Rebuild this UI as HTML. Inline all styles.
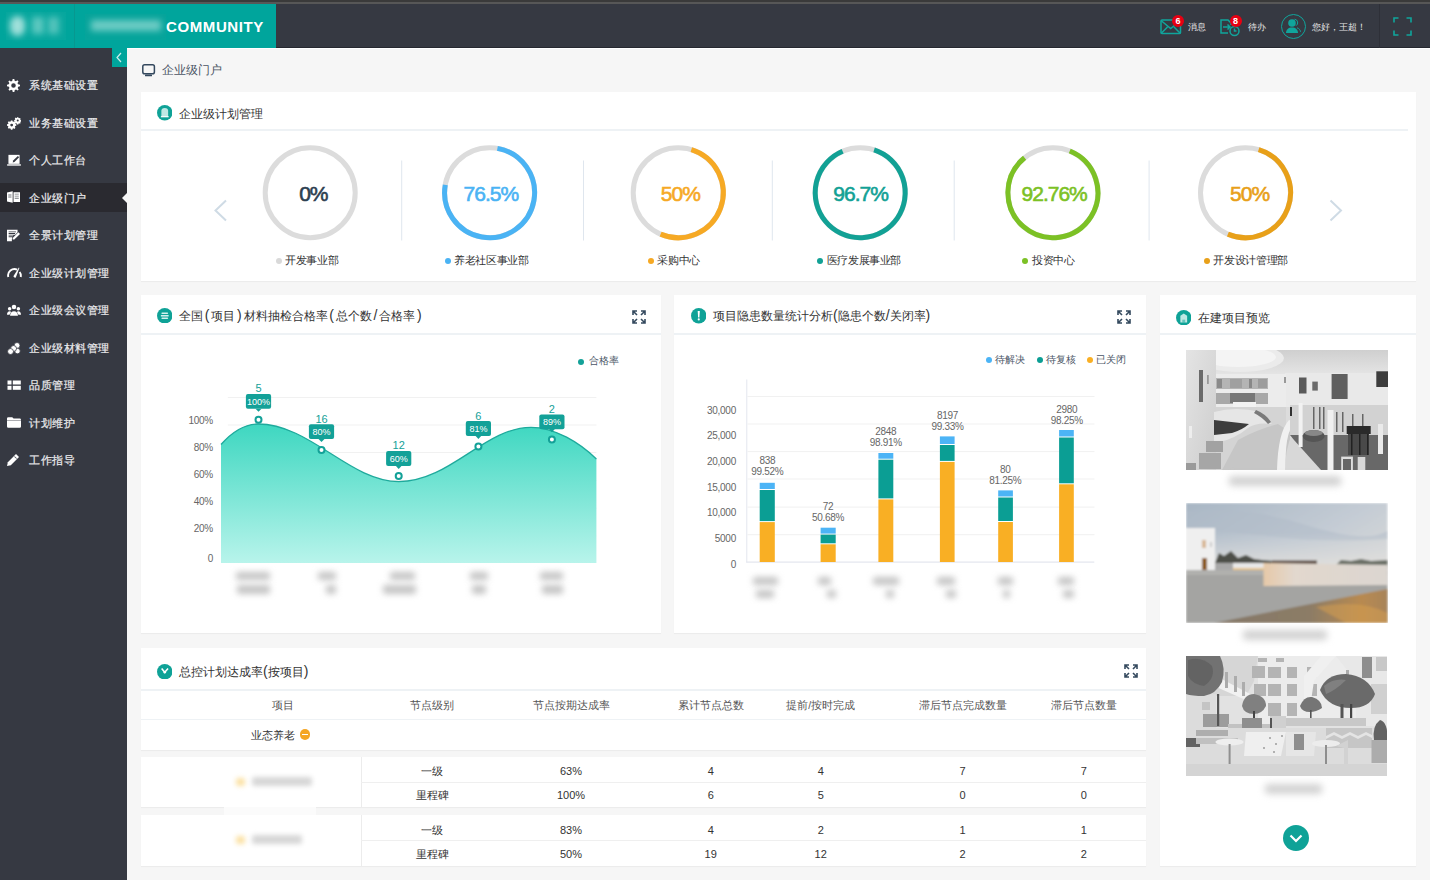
<!DOCTYPE html>
<html><head><meta charset="utf-8">
<style>
*{margin:0;padding:0;box-sizing:border-box}
html,body{width:1430px;height:880px;overflow:hidden;background:#f5f5f5;font-family:"Liberation Sans",sans-serif;color:#333}
.abs{position:absolute}
#topline{left:0;top:0;width:1430px;height:4px;background:#3a3a3a}
#topline2{left:0;top:1.5px;width:1430px;height:2.5px;background:#575757}
#header{left:0;top:4px;width:1430px;height:44px;background:#363942;border-bottom:1px solid #262830}
#logo{left:0;top:4px;width:276px;height:44px;background:#00a59c}
#logodiv{left:74px;top:4px;width:1px;height:44px;background:#079890}
#sidebar{left:0;top:48px;width:127px;height:832px;background:#363942}
#collapse{left:112px;top:48px;width:15px;height:19px;background:#00a59c}
#content{left:127px;top:48px;width:1303px;height:832px;background:#f6f6f6;border-top:1px solid #fff}
.menu{position:absolute;left:0;width:127px;height:28px;color:#ececee;font-size:11px;letter-spacing:0.5px;line-height:28px;padding-left:29px;white-space:nowrap;-webkit-text-stroke:0.2px #ececee}
.menu.active{background:#2a2a30;height:29px;margin-top:-1px;line-height:30px}
.micon{position:absolute;left:7px;top:8px;width:14px;height:13px}
.micon svg{display:block}
.card{position:absolute;background:#fff;box-shadow:0 1px 1px rgba(0,0,0,0.04)}
.ctitle{position:absolute;font-size:12px;color:#333;white-space:nowrap;line-height:16px}
.ctitle i{font-style:normal;margin:0 1.8px;font-size:14px;line-height:10px}
.ctitle.n i{margin:0}
.cicon{position:absolute;width:15px;height:15px;border-radius:50%;background:#0fa297}
.sep{position:absolute;height:2px;background:#eef2f5}
.hdr-txt{position:absolute;color:#e6e6e6;font-size:9px;line-height:12px;white-space:nowrap}
.badge{position:absolute;width:12px;height:12px;border-radius:50%;background:#e60012;color:#fff;font-size:9px;line-height:12px;text-align:center;font-weight:bold}
.pct{position:absolute;top:181.7px;width:120px;-webkit-text-stroke:0.6px currentColor;text-align:center;font-size:21px;line-height:24px;letter-spacing:-1px;white-space:nowrap}
.dot{position:absolute;width:6px;height:6px;border-radius:50%}
.clab{position:absolute;top:253px;font-size:11px;letter-spacing:-0.35px;line-height:14px;color:#333;white-space:nowrap}
.tip{position:absolute;width:40px;text-align:center;color:#fff;font-size:9px;line-height:12px;white-space:nowrap}
.num{position:absolute;width:40px;text-align:center;color:#13a198;font-size:11px;line-height:14px}
.ylab{position:absolute;text-align:right;color:#666;font-size:10px;letter-spacing:-0.25px;line-height:14px;white-space:nowrap;margin-top:0.8px}
.blur{position:absolute;background:#cfcfcf;filter:blur(2.5px);border-radius:3px}
.leg{position:absolute;color:#4a5566;font-size:10px;line-height:14px;white-space:nowrap}
.blab{position:absolute;width:60px;text-align:center;color:#666;font-size:10px;letter-spacing:-0.3px;line-height:11px;white-space:nowrap;margin-top:1.2px}
.th{position:absolute;width:120px;text-align:center;color:#555;font-size:10.5px;line-height:14px;white-space:nowrap}
.td{position:absolute;width:120px;text-align:center;color:#333;font-size:11px;line-height:14px;white-space:nowrap}
.blur2{position:absolute;background:#c4c4c4;filter:blur(3px);border-radius:2px}
</style></head><body>
<div id="topline" class="abs"></div>
<div id="topline2" class="abs"></div>
<div id="header" class="abs"></div>
<div id="logo" class="abs"></div>
<div id="logodiv" class="abs"></div>
<div class="abs" style="left:166px;top:18px;color:#fff;font-size:15px;font-weight:bold;letter-spacing:0.6px;line-height:18px">COMMUNITY</div>
<!--HEADER-->
<div class="abs" style="left:6px;top:12px;width:60px;height:28px;background:#07a79e"></div>
<div class="abs" style="left:10px;top:16px;width:15px;height:20px;border-radius:8px;background:#a0e0da;filter:blur(3px)"></div>
<div class="abs" style="left:32px;top:17px;width:12px;height:17px;background:#5cc8c0;filter:blur(3px)"></div>
<div class="abs" style="left:48px;top:17px;width:11px;height:17px;background:#54c4bc;filter:blur(3px)"></div>
<div class="abs" style="left:85px;top:14px;width:81px;height:26px;background:#06a49b"></div>
<div class="abs" style="left:91px;top:20px;width:70px;height:11px;background:#6ccbc4;filter:blur(3px)"></div>
<svg class="abs" style="left:1160px;top:19px" width="22" height="16" viewBox="0 0 22 16"><g fill="none" stroke="#10a59c" stroke-width="1.5"><rect x="1" y="1" width="19.5" height="13.5" rx="1"/><path d="M1 1.5l9.7 8 9.8-8M1 14.5l6.5-6.5M20.5 14.5l-6.5-6.5"/></g></svg>
<div class="badge" style="left:1172px;top:14.5px">6</div>
<div class="hdr-txt" style="left:1188px;top:21px">消息</div>
<svg class="abs" style="left:1219px;top:19px" width="22" height="18" viewBox="0 0 22 18"><g fill="none" stroke="#10a59c" stroke-width="1.5"><path d="M9 14H2V1h7l3 3v2"/><path d="M4 8h7M8.5 5.5L11 8l-2.5 2.5"/><circle cx="15.5" cy="12" r="4.5"/><path d="M15.5 9.5V12h2"/></g></svg>
<div class="badge" style="left:1229.5px;top:14.5px">8</div>
<div class="hdr-txt" style="left:1248px;top:21px">待办</div>
<div class="abs" style="left:1281px;top:14px;width:25px;height:25px;border-radius:50%;border:1.5px solid #10a59c"></div>
<svg class="abs" style="left:1285px;top:18px" width="17" height="16" viewBox="0 0 17 16"><g fill="#10a59c"><circle cx="7" cy="5" r="3.8"/><path d="M1 15c0-3.5 2.5-5.5 6-5.5s6 2 6 5.5z"/></g><path d="M9.5 1.2a3.5 3.5 0 0 1 1.5 6.5M12 9.8c2 .7 3.5 2.3 3.5 4" fill="none" stroke="#10a59c" stroke-width="1"/></svg>
<div class="hdr-txt" style="left:1312px;top:21px">您好，王超！</div>
<div class="abs" style="left:1379px;top:4px;width:1px;height:44px;background:#2e3038"></div>
<svg class="abs" style="left:1393px;top:17px" width="19" height="19" viewBox="0 0 19 19"><path d="M1 5.5V1h4.5M13.5 1H18v4.5M18 13.5V18h-4.5M5.5 18H1v-4.5" fill="none" stroke="#10a59c" stroke-width="1.6"/></svg>
<!--/HEADER-->
<div id="sidebar" class="abs"></div>
<div id="content" class="abs"></div>
<div id="collapse" class="abs"></div>
<!--SIDEBAR-->
<div class="menu" style="top:71.0px"><span class="micon"><svg width="13" height="13" viewBox="0 0 16 16"><path fill="#fff" d="M7 0h2l.4 2.2a6 6 0 0 1 1.6.7l1.8-1.3 1.4 1.4-1.3 1.8a6 6 0 0 1 .7 1.6L16 7v2l-2.2.4a6 6 0 0 1-.7 1.6l1.3 1.8-1.4 1.4-1.8-1.3a6 6 0 0 1-1.6.7L9 16H7l-.4-2.2a6 6 0 0 1-1.6-.7l-1.8 1.3-1.4-1.4 1.3-1.8a6 6 0 0 1-.7-1.6L0 9V7l2.2-.4a6 6 0 0 1 .7-1.6L1.6 3.2 3 1.8l1.8 1.3a6 6 0 0 1 1.6-.7z M8 5.2A2.8 2.8 0 1 0 8 10.8 2.8 2.8 0 1 0 8 5.2z" fill-rule="evenodd"/></svg></span>系统基础设置</div>
<div class="menu" style="top:108.5px"><span class="micon"><svg width="14" height="13" viewBox="0 0 18 16"><g fill="#fff" fill-rule="evenodd"><path d="M5 6h2l.3 1.4 1.1.5 1.2-.8 1.4 1.4-.8 1.2.5 1.1L12 11v2l-1.4.3-.5 1.1.8 1.2-1.4 1.4-1.2-.8-1.1.5L7 18H5l-.3-1.4-1.1-.5-1.2.8L1 15.5l.8-1.2-.5-1.1L0 13v-2l1.4-.3.5-1.1L1 8.4 2.4 7l1.2.8 1.1-.5z M6 10.2a1.8 1.8 0 1 0 0 3.6 1.8 1.8 0 1 0 0-3.6z" transform="translate(0,-2)"/><path d="M13 0h1.6l.2 1 .8.4.9-.6 1.1 1.1-.6.9.4.8 1 .2v1.6l-1 .2-.4.8.6.9-1.1 1.1-.9-.6-.8.4-.2 1H13l-.2-1-.8-.4-.9.6L10 6.9l.6-.9-.4-.8-1-.2V3.4l1-.2.4-.8-.6-.9L11.1.4l.9.6.8-.4z M13.8 2.9a1.3 1.3 0 1 0 0 2.6 1.3 1.3 0 1 0 0-2.6z"/></g></svg></span>业务基础设置</div>
<div class="menu" style="top:146.0px"><span class="micon"><svg width="14" height="12" viewBox="0 0 16 14"><path fill="#fff" d="M1.5 1h13v10.5h-13z"/><path fill="#363942" d="M12.5 2.2L14 3.7 8.5 9.2 6.5 9.8 7 7.7z"/><path fill="#fff" d="M0 12h16v1.6H0z"/></svg></span>个人工作台</div>
<div class="menu active" style="top:183.5px"><span class="micon"><svg width="13" height="12" viewBox="0 0 16 14"><path fill="#fff" d="M0 1.5l7 -1.5v14L0 12.5z M8 1h8v12H8z"/><path fill="#363942" d="M9.5 3h5v1h-5zM9.5 5.5h5v1h-5zM9.5 8h5v1h-5zM1.5 4h4v1h-4zM1.5 6.5h4v1h-4z" opacity=".7"/></svg></span>企业级门户</div>
<div class="menu" style="top:221.0px"><span class="micon"><svg width="13" height="13" viewBox="0 0 16 16"><path fill="#fff" d="M0 1h13v3l-3 3H2v1h6l-1 1H2v1h4.5L6 12.5V15H0z M2 3v1h9V3z M2 5v1h8V5z M14 4l2 2-7 7H7v-2z"/></svg></span>全景计划管理</div>
<div class="menu" style="top:258.5px"><span class="micon"><svg width="15" height="12" viewBox="0 0 15 12" style="margin-top:-0.5px"><path fill="none" stroke="#fff" stroke-width="1.9" d="M1.3 11A6.4 6.4 0 0 1 10.2 3.6M12.6 6A6.4 6.4 0 0 1 13.7 11"/><path fill="#fff" d="M6.4 10.2L11.9 1.6 12.4 1.9 8.8 11.6Q7 12 6.4 10.2z"/></svg></span>企业级计划管理</div>
<div class="menu" style="top:296.0px"><span class="micon"><svg width="14" height="12" viewBox="0 0 16 13"><g fill="#fff"><circle cx="8" cy="3" r="2.6"/><circle cx="3" cy="5" r="2"/><circle cx="13" cy="5" r="2"/><path d="M3.5 13c0-3 2-5 4.5-5s4.5 2 4.5 5z"/><path d="M0 12c0-2.5 1.2-4 3-4 .8 0 1.3.3 1.8.7C3.8 9.7 3 11 3 12z"/><path d="M16 12c0-2.5-1.2-4-3-4-.8 0-1.3.3-1.8.7 1 1 1.8 2.3 1.8 3.3z"/></g></svg></span>企业级会议管理</div>
<div class="menu" style="top:333.5px"><span class="micon"><svg width="14" height="13" viewBox="0 0 16 15"><g fill="#fff" stroke="#363942" stroke-width=".9"><circle cx="11.5" cy="4" r="3.4"/><circle cx="12" cy="10.5" r="3.2"/><circle cx="7.5" cy="7.5" r="3.4"/><circle cx="4" cy="11" r="3.4"/></g></svg></span>企业级材料管理</div>
<div class="menu" style="top:371.0px"><span class="micon"><svg width="14" height="11" viewBox="0 0 14 11" style="margin-top:1px"><g fill="#fff"><rect x="0.5" y="0.5" width="4" height="4"/><rect x="5.8" y="0.5" width="8" height="4"/><rect x="0.5" y="5.8" width="4" height="4"/><rect x="5.8" y="5.8" width="8" height="4"/></g></svg></span>品质管理</div>
<div class="menu" style="top:408.5px"><span class="micon"><svg width="14" height="11" viewBox="0 0 16 12"><path fill="#fff" d="M0 1.5Q0 0 1.5 0H6l1.5 1.5h7Q16 1.5 16 3v7.5Q16 12 14.5 12h-13Q0 12 0 10.5z"/><path fill="#363942" d="M0 3.5h16v.8H0z" opacity=".6"/></svg></span>计划维护</div>
<div class="menu" style="top:446.0px"><span class="micon"><svg width="12" height="12" viewBox="0 0 14 14"><path fill="#fff" d="M10.5 0L14 3.5 4.5 13 0 14 1 9.5z"/><path fill="#363942" d="M9 2.5l2.5 2.5-.6.6L8.4 3.1z"/></svg></span>工作指导</div>
<div class="abs" style="left:122px;top:193px;width:0;height:0;border-top:5px solid transparent;border-bottom:5px solid transparent;border-right:5px solid #f6f6f6"></div>
<svg class="abs" style="left:115px;top:52px" width="8" height="11" viewBox="0 0 8 11"><path d="M6 1L2 5.5 6 10" fill="none" stroke="#cdeeed" stroke-width="1.2"/></svg>
<!--/SIDEBAR-->

<!--MAIN-->
<svg class="abs" style="left:141.5px;top:63.5px" width="14" height="13" viewBox="0 0 14 13"><rect x="0.8" y="0.8" width="11.6" height="9" rx="1.8" fill="none" stroke="#34495e" stroke-width="1.5"/><rect x="3" y="10.5" width="7" height="1.8" rx=".6" fill="#34495e"/></svg>
<div class="abs" style="left:162px;top:63px;font-size:12px;line-height:15px;color:#4a5464;white-space:nowrap">企业级门户</div>

<div class="card" style="left:141px;top:92px;width:1275px;height:189px"></div>
<div class="sep" style="left:141px;top:129px;width:1267px"></div>
<svg class="abs" style="left:156.8px;top:105.3px" width="15.5" height="15.5" viewBox="0 0 16 16"><circle cx="8" cy="8" r="8" fill="#0fa297"/><path d="M4.5 12.5V6Q4.5 3.5 8 3.2Q11.5 3.5 11.5 6V12.5z" fill="#bfe8e4"/><rect x="4" y="11.5" width="8" height="1.2" fill="#fff"/></svg>
<div class="ctitle" style="left:179px;top:106px">企业级计划管理</div>

<div class="card" style="left:141px;top:295px;width:520px;height:338px"></div>
<div class="sep" style="left:141px;top:333px;width:520px"></div>
<svg class="abs" style="left:156.8px;top:307.8px" width="15.5" height="15.5" viewBox="0 0 16 16"><circle cx="8" cy="8" r="8" fill="#0fa297"/><rect x="4.5" y="4.6" width="7" height="1.6" rx=".8" fill="#d6f0ee"/><rect x="4" y="7.2" width="8" height="1.6" fill="#d6f0ee"/><rect x="4.5" y="9.8" width="7" height="1.6" rx=".8" fill="#d6f0ee"/></svg>
<div class="ctitle" style="left:179px;top:308px">全国<i>(</i>项目<i>)</i>材料抽检合格率<i>(</i>总个数<i>/</i>合格率<i>)</i></div>

<div class="card" style="left:674px;top:295px;width:472px;height:338px"></div>
<div class="sep" style="left:674px;top:333px;width:472px"></div>
<svg class="abs" style="left:690.8px;top:308px" width="15.5" height="15.5" viewBox="0 0 16 16"><circle cx="8" cy="8" r="8" fill="#0fa297"/><path d="M6.9 3h2.2l-.4 6.8H7.3z" fill="#fff"/><circle cx="8" cy="11.8" r="1.1" fill="#fff"/></svg>
<div class="ctitle n" style="left:713px;top:308px">项目隐患数量统计分析<i>(</i>隐患个数<i>/</i>关闭率<i>)</i></div>

<div class="card" style="left:1160px;top:295px;width:256px;height:571px"></div>
<div class="sep" style="left:1160px;top:333px;width:256px"></div>
<svg class="abs" style="left:1175.8px;top:309.6px" width="15.5" height="15.5" viewBox="0 0 16 16"><circle cx="8" cy="8" r="8" fill="#0fa297"/><path d="M4.5 13V6L8 3.5 11.5 6V13z" fill="#bfe8e4"/><rect x="6.5" y="10" width="3" height="3" fill="#0fa297" opacity=".5"/></svg>
<div class="ctitle" style="left:1198px;top:310px">在建项目预览</div>

<div class="card" style="left:141px;top:648px;width:1005px;height:102px"></div>
<div class="sep" style="left:141px;top:689px;width:1005px"></div>
<div class="sep" style="left:141px;top:719px;width:1005px;height:1px"></div>
<svg class="abs" style="left:156.8px;top:663.8px" width="15.5" height="15.5" viewBox="0 0 16 16"><circle cx="8" cy="8" r="8" fill="#0fa297"/><path d="M4.8 4.6L8 8.5 11.4 4.6" fill="none" stroke="#fff" stroke-width="1.6"/><circle cx="8" cy="8.6" r="1.3" fill="#fff"/></svg>
<div class="ctitle n" style="left:179px;top:664px">总控计划达成率<i>(</i>按项目<i>)</i></div>

<div class="card" style="left:141px;top:757px;width:1005px;height:50px"></div>
<div class="card" style="left:141px;top:815px;width:1005px;height:51px"></div>
<!--CAROUSEL-->
<svg class="abs" style="left:0;top:0" width="1430" height="300" viewBox="0 0 1430 300">
<circle cx="310.2" cy="192.7" r="45" fill="none" stroke="#dcdcdc" stroke-width="5"/>
<circle cx="489.6" cy="192.7" r="45" fill="none" stroke="#dcdcdc" stroke-width="5"/>
<path d="M497.41 148.38A45 45 0 1 1 445.28 184.89" fill="none" stroke="#4ab3f4" stroke-width="5"/>
<circle cx="678.2" cy="192.7" r="45" fill="none" stroke="#dcdcdc" stroke-width="5"/>
<path d="M691.36 149.67A45 45 0 1 1 660.62 234.12" fill="none" stroke="#f6a924" stroke-width="5"/>
<circle cx="860.2" cy="192.7" r="45" fill="none" stroke="#dcdcdc" stroke-width="5"/>
<path d="M874.11 149.90A45 45 0 1 1 842.62 151.28" fill="none" stroke="#12a195" stroke-width="5"/>
<circle cx="1052.9" cy="192.7" r="45" fill="none" stroke="#dcdcdc" stroke-width="5"/>
<path d="M1069.76 150.98A45 45 0 1 1 1024.58 157.73" fill="none" stroke="#7cc125" stroke-width="5"/>
<circle cx="1245.5" cy="192.7" r="45" fill="none" stroke="#dcdcdc" stroke-width="5"/>
<path d="M1258.66 149.67A45 45 0 1 1 1227.92 234.12" fill="none" stroke="#e8a019" stroke-width="5"/>
<rect x="401.2" y="160.5" width="1" height="80" fill="#dfe6ee"/>
<rect x="583.0" y="160.5" width="1" height="80" fill="#dfe6ee"/>
<rect x="771.8" y="160.5" width="1" height="80" fill="#dfe6ee"/>
<rect x="953.7" y="160.5" width="1" height="80" fill="#dfe6ee"/>
<rect x="1148.6" y="160.5" width="1" height="80" fill="#dfe6ee"/>
<path d="M226 200.5L215.5 210.5 226 220.5" fill="none" stroke="#cfdbe5" stroke-width="2"/>
<path d="M1330.5 200.5L1341 210.5 1330.5 220.5" fill="none" stroke="#cfdbe5" stroke-width="2"/>
</svg>
<div class="pct" style="margin-left:3.20px;left:250.2px;color:#2c3e50">0%</div>
<div class="pct" style="margin-left:1.30px;left:429.6px;color:#4ab3f4">76.5%</div>
<div class="pct" style="margin-left:2.20px;left:618.2px;color:#f6a924">50%</div>
<div class="pct" style="margin-left:0.40px;left:800.2px;color:#12a195">96.7%</div>
<div class="pct" style="margin-left:1.30px;left:992.9000000000001px;color:#7cc125">92.76%</div>
<div class="pct" style="margin-left:4.05px;left:1185.5px;color:#e8a019">50%</div>

<div class="dot" style="left:275.55px;top:257.5px;background:#d9d9d9"></div><div class="clab" style="left:285.1px">开发事业部</div>
<div class="dot" style="left:444.65px;top:257.5px;background:#4ab3f4"></div><div class="clab" style="left:454.2px">养老社区事业部</div>
<div class="dot" style="left:647.85px;top:257.5px;background:#f6a924"></div><div class="clab" style="left:657.3px">采购中心</div>
<div class="dot" style="left:816.95px;top:257.5px;background:#12a195"></div><div class="clab" style="left:826.6px">医疗发展事业部</div>
<div class="dot" style="left:1022.25px;top:257.5px;background:#7cc125"></div><div class="clab" style="left:1032.2px">投资中心</div>
<div class="dot" style="left:1203.85px;top:257.5px;background:#e8a019"></div><div class="clab" style="left:1213.4px">开发设计管理部</div>
<!--/CAROUSEL-->
<!--CHARTS-->
<svg class="abs" style="left:0;top:0" width="1430" height="640" viewBox="0 0 1430 640">
<defs><linearGradient id="ag" x1="0" y1="420" x2="0" y2="563" gradientUnits="userSpaceOnUse"><stop offset="0" stop-color="#3ad6bf"/><stop offset="1" stop-color="#b8f4eb"/></linearGradient></defs>
<rect x="227.8" y="397" width="368.6" height="1" fill="#f1f1f1"/>
<rect x="227.8" y="424.5" width="368.6" height="1" fill="#f1f1f1"/>
<rect x="227.8" y="452" width="368.6" height="1" fill="#f1f1f1"/>
<rect x="227.8" y="480" width="368.6" height="1" fill="#f1f1f1"/>
<rect x="227.8" y="507.7" width="368.6" height="1" fill="#f1f1f1"/>
<rect x="227.8" y="535.4" width="368.6" height="1" fill="#f1f1f1"/>
<path d="M221 444.5C232 432 245 424 258 424C310 424 350 481.6 398.7 481.6C450 481.6 485 427.3 531 427.3C555 427.3 580 443 596.4 459L596.4 563L221 563Z" fill="url(#ag)"/>
<path d="M221 444.5C232 432 245 424 258 424C310 424 350 481.6 398.7 481.6C450 481.6 485 427.3 531 427.3C555 427.3 580 443 596.4 459" fill="none" stroke="#1eaa9c" stroke-width="1.3"/>
<circle cx="258.5" cy="419.7" r="3" fill="#fff" stroke="#13a198" stroke-width="2"/>
<rect x="245.9" y="394" width="25.2" height="14.8" rx="2" fill="#13a198"/><path d="M255.5 408.7L258.5 411.8L261.5 408.7Z" fill="#13a198"/>
<circle cx="321.5" cy="450" r="3" fill="#fff" stroke="#13a198" stroke-width="2"/>
<rect x="308.9" y="424.3" width="25.2" height="14.8" rx="2" fill="#13a198"/><path d="M318.5 439.0L321.5 442.1L324.5 439.0Z" fill="#13a198"/>
<circle cx="398.7" cy="476" r="3" fill="#fff" stroke="#13a198" stroke-width="2"/>
<rect x="386.09999999999997" y="451.1" width="25.2" height="14.8" rx="2" fill="#13a198"/><path d="M395.7 465.8L398.7 468.90000000000003L401.7 465.8Z" fill="#13a198"/>
<circle cx="478.4" cy="446.6" r="3" fill="#fff" stroke="#13a198" stroke-width="2"/>
<rect x="465.79999999999995" y="421.1" width="25.2" height="14.8" rx="2" fill="#13a198"/><path d="M475.4 435.8L478.4 438.90000000000003L481.4 435.8Z" fill="#13a198"/>
<circle cx="551.9" cy="439.6" r="3" fill="#fff" stroke="#13a198" stroke-width="2"/>
<rect x="539.3" y="414.4" width="25.2" height="14.8" rx="2" fill="#13a198"/><path d="M548.9 429.09999999999997L551.9 432.2L554.9 429.09999999999997Z" fill="#13a198"/>
</svg>
<div class="tip" style="left:238.5px;top:395.5px">100%</div><div class="num" style="left:238.5px;top:380.8px">5</div>
<div class="tip" style="left:301.5px;top:425.8px">80%</div><div class="num" style="left:301.5px;top:411.5px">16</div>
<div class="tip" style="left:378.7px;top:452.6px">60%</div><div class="num" style="left:378.7px;top:437.9px">12</div>
<div class="tip" style="left:458.4px;top:422.6px">81%</div><div class="num" style="left:458.4px;top:408.6px">6</div>
<div class="tip" style="left:531.9px;top:415.9px">89%</div><div class="num" style="left:531.9px;top:401.9px">2</div>
<div class="ylab" style="left:163px;width:50px;top:413.2px">100%</div>
<div class="ylab" style="left:163px;width:50px;top:440.1px">80%</div>
<div class="ylab" style="left:163px;width:50px;top:466.9px">60%</div>
<div class="ylab" style="left:163px;width:50px;top:494px">40%</div>
<div class="ylab" style="left:163px;width:50px;top:521.3px">20%</div>
<div class="ylab" style="left:163px;width:50px;top:551px">0</div>





<div class="dot" style="left:578.1px;top:358.6px;width:6.4px;height:6.4px;background:#13a198"></div><div class="leg" style="left:588.7px;top:353.7px">合格率</div>
<svg class="abs" style="left:631.5px;top:309.5px" width="14" height="14" viewBox="0 0 14 14"><g fill="none" stroke="#34495e" stroke-width="1.6"><path d="M1 5V1h4M1 1l4 4M13 5V1H9M13 1L9 5M1 9v4h4M1 13l4-4M13 9v4H9M13 13L9 9"/></g></svg>
<svg class="abs" style="left:0;top:0" width="1430" height="640" viewBox="0 0 1430 640">
<rect x="747.5" y="396" width="347" height="1" fill="#f1f1f1"/>
<rect x="747.5" y="423.5" width="347" height="1" fill="#f1f1f1"/>
<rect x="747.5" y="451.1" width="347" height="1" fill="#f1f1f1"/>
<rect x="747.5" y="478.5" width="347" height="1" fill="#f1f1f1"/>
<rect x="747.5" y="506.6" width="347" height="1" fill="#f1f1f1"/>
<rect x="747.5" y="534.2" width="347" height="1" fill="#f1f1f1"/>
<rect x="746.3" y="379.5" width="1" height="183" fill="#e3e6ee"/><rect x="746.3" y="561.5" width="348" height="1.2" fill="#e3e6ee"/>
<rect x="759.7" y="482.8" width="15.1" height="6.2" fill="#4cb4f6"/>
<rect x="759.7" y="490" width="15.1" height="31.1" fill="#0b9e94"/>
<rect x="759.7" y="522.1" width="15.1" height="39.9" fill="#f9af24"/>
<rect x="820.6" y="527.7" width="15.1" height="5.9" fill="#4cb4f6"/>
<rect x="820.6" y="534.6" width="15.1" height="8.7" fill="#0b9e94"/>
<rect x="820.6" y="544.3" width="15.1" height="17.7" fill="#f9af24"/>
<rect x="878.4" y="453" width="14.9" height="5.7" fill="#4cb4f6"/>
<rect x="878.4" y="459.7" width="14.9" height="38.7" fill="#0b9e94"/>
<rect x="878.4" y="499.4" width="14.9" height="62.6" fill="#f9af24"/>
<rect x="939.9" y="436.4" width="14.7" height="7.6" fill="#4cb4f6"/>
<rect x="939.9" y="445" width="14.7" height="15.9" fill="#0b9e94"/>
<rect x="939.9" y="461.9" width="14.7" height="100.1" fill="#f9af24"/>
<rect x="998.2" y="490.4" width="14.7" height="6.1" fill="#4cb4f6"/>
<rect x="998.2" y="497.5" width="14.7" height="23.5" fill="#0b9e94"/>
<rect x="998.2" y="522" width="14.7" height="40.0" fill="#f9af24"/>
<rect x="1059.1" y="430" width="14.7" height="6.5" fill="#4cb4f6"/>
<rect x="1059.1" y="437.5" width="14.7" height="45.8" fill="#0b9e94"/>
<rect x="1059.1" y="484.3" width="14.7" height="77.7" fill="#f9af24"/>
</svg>
<div class="ylab" style="left:686px;width:50px;top:403.1px">30,000</div>
<div class="ylab" style="left:686px;width:50px;top:428.3px">25,000</div>
<div class="ylab" style="left:686px;width:50px;top:454.7px">20,000</div>
<div class="ylab" style="left:686px;width:50px;top:479.8px">15,000</div>
<div class="ylab" style="left:686px;width:50px;top:505.4px">10,000</div>
<div class="ylab" style="left:686px;width:50px;top:531.3px">5000</div>
<div class="ylab" style="left:686px;width:50px;top:556.8px">0</div>
<div class="blab" style="left:737.3px;top:453.8px">838<br>99.52%</div>
<div class="blab" style="left:798px;top:500.2px">72<br>50.68%</div>
<div class="blab" style="left:855.8px;top:424.7px">2848<br>98.91%</div>
<div class="blab" style="left:917.5px;top:408.5px">8197<br>99.33%</div>
<div class="blab" style="left:975.3px;top:462.4px">80<br>81.25%</div>
<div class="blab" style="left:1036.8px;top:402.4px">2980<br>98.25%</div>






<div class="dot" style="left:986.0999999999999px;top:357px;width:6.4px;height:6.4px;background:#4cb4f6"></div><div class="leg" style="left:995px;top:353.2px">待解决</div>
<div class="dot" style="left:1037.0px;top:357px;width:6.4px;height:6.4px;background:#0b9e94"></div><div class="leg" style="left:1046.1px;top:353.2px">待复核</div>
<div class="dot" style="left:1087.1px;top:357px;width:6.4px;height:6.4px;background:#f9af24"></div><div class="leg" style="left:1096px;top:353.2px">已关闭</div>
<svg class="abs" style="left:1117.3px;top:310.3px" width="14" height="14" viewBox="0 0 14 14"><g fill="none" stroke="#34495e" stroke-width="1.6"><path d="M1 5V1h4M1 1l4 4M13 5V1H9M13 1L9 5M1 9v4h4M1 13l4-4M13 9v4H9M13 13L9 9"/></g></svg>
<div class="blur2" style="left:235.7px;top:572px;width:34.60000000000002px;height:8px"></div><div class="blur2" style="left:237.4px;top:585px;width:32.599999999999994px;height:9px"></div>
<div class="blur2" style="left:318px;top:572px;width:17.80000000000001px;height:8px"></div><div class="blur2" style="left:326.3px;top:585px;width:9.699999999999989px;height:9px"></div>
<div class="blur2" style="left:390px;top:572px;width:24.600000000000023px;height:8px"></div><div class="blur2" style="left:383.4px;top:585px;width:32.900000000000034px;height:9px"></div>
<div class="blur2" style="left:470px;top:572px;width:18px;height:8px"></div><div class="blur2" style="left:472px;top:585px;width:14px;height:9px"></div>
<div class="blur2" style="left:539.6px;top:572px;width:23.899999999999977px;height:8px"></div><div class="blur2" style="left:542px;top:585px;width:21px;height:9px"></div>
<div class="blur2" style="left:753px;top:577px;width:25px;height:8px"></div><div class="blur2" style="left:756px;top:590px;width:18px;height:8px"></div>
<div class="blur2" style="left:817.6px;top:577px;width:13.399999999999977px;height:8px"></div><div class="blur2" style="left:826.6px;top:590px;width:9.399999999999977px;height:8px"></div>
<div class="blur2" style="left:873px;top:577px;width:26px;height:8px"></div><div class="blur2" style="left:885.8px;top:590px;width:8.200000000000045px;height:8px"></div>
<div class="blur2" style="left:937px;top:577px;width:17.600000000000023px;height:8px"></div><div class="blur2" style="left:946px;top:590px;width:9.600000000000023px;height:8px"></div>
<div class="blur2" style="left:997.7px;top:577px;width:14.899999999999977px;height:8px"></div><div class="blur2" style="left:1003px;top:590px;width:6.7999999999999545px;height:8px"></div>
<div class="blur2" style="left:1058px;top:577px;width:16px;height:8px"></div><div class="blur2" style="left:1063px;top:590px;width:11px;height:8px"></div>
<!--/CHARTS-->
<!--TABLE-->
<div class="th" style="left:223.2px;top:697.5px">项目</div>
<div class="th" style="left:372px;top:697.5px">节点级别</div>
<div class="th" style="left:511px;top:697.5px">节点按期达成率</div>
<div class="th" style="left:650.7px;top:697.5px">累计节点总数</div>
<div class="th" style="left:760.7px;top:697.5px">提前/按时完成</div>
<div class="th" style="left:902.5px;top:697.5px">滞后节点完成数量</div>
<div class="th" style="left:1023.8px;top:697.5px">滞后节点数量</div>
<div class="td" style="left:233px;top:727.5px;width:62px;text-align:right">业态养老</div>
<div class="abs" style="left:299.6px;top:729.1px;width:10.8px;height:10.8px;border-radius:50%;background:#f5a623"></div><div class="abs" style="left:302px;top:733.7px;width:6px;height:1.6px;background:#fff"></div>
<div class="abs" style="left:361px;top:757px;width:1px;height:50px;background:#ececec"></div><div class="abs" style="left:361px;top:781.5px;width:785px;height:1px;background:#efefef"></div>
<div class="abs" style="left:361px;top:815px;width:1px;height:51px;background:#ececec"></div><div class="abs" style="left:361px;top:840px;width:785px;height:1px;background:#efefef"></div>
<div class="abs" style="left:224px;top:807px;width:92px;height:8px;background:#fbfbfb"></div>
<div class="td" style="left:372px;top:763.5px">一级</div>
<div class="td" style="left:511px;top:763.5px">63%</div>
<div class="td" style="left:650.7px;top:763.5px">4</div>
<div class="td" style="left:760.7px;top:763.5px">4</div>
<div class="td" style="left:902.5px;top:763.5px">7</div>
<div class="td" style="left:1023.8px;top:763.5px">7</div>
<div class="td" style="left:372px;top:787.5px">里程碑</div>
<div class="td" style="left:511px;top:787.5px">100%</div>
<div class="td" style="left:650.7px;top:787.5px">6</div>
<div class="td" style="left:760.7px;top:787.5px">5</div>
<div class="td" style="left:902.5px;top:787.5px">0</div>
<div class="td" style="left:1023.8px;top:787.5px">0</div>
<div class="td" style="left:372px;top:822.5px">一级</div>
<div class="td" style="left:511px;top:822.5px">83%</div>
<div class="td" style="left:650.7px;top:822.5px">4</div>
<div class="td" style="left:760.7px;top:822.5px">2</div>
<div class="td" style="left:902.5px;top:822.5px">1</div>
<div class="td" style="left:1023.8px;top:822.5px">1</div>
<div class="td" style="left:372px;top:846.5px">里程碑</div>
<div class="td" style="left:511px;top:846.5px">50%</div>
<div class="td" style="left:650.7px;top:846.5px">19</div>
<div class="td" style="left:760.7px;top:846.5px">12</div>
<div class="td" style="left:902.5px;top:846.5px">2</div>
<div class="td" style="left:1023.8px;top:846.5px">2</div>
<div class="blur" style="left:236px;top:778px;width:9px;height:8px;background:#fbe0a0"></div><div class="blur" style="left:252px;top:777px;width:60px;height:9px;background:#d6d6d6"></div>
<div class="blur" style="left:236px;top:836px;width:9px;height:8px;background:#fbe0a0"></div><div class="blur" style="left:252px;top:835px;width:50px;height:9px;background:#d6d6d6"></div>
<svg class="abs" style="left:1124px;top:663.8px" width="14" height="14" viewBox="0 0 14 14"><g fill="none" stroke="#34495e" stroke-width="1.6"><path d="M1 5V1h4M1 1l4 4M13 5V1H9M13 1L9 5M1 9v4h4M1 13l4-4M13 9v4H9M13 13L9 9"/></g></svg>
<!--/TABLE-->
<!--IMAGES-->
<svg class="abs" style="left:1185.5px;top:349.5px" width="202" height="120" viewBox="0 0 202 120">
<defs><filter id="bl1" x="-5%" y="-5%" width="110%" height="110%"><feGaussianBlur stdDeviation="0.7"/></filter>
<linearGradient id="g1c" x1="0" y1="0" x2="0" y2="1"><stop offset="0" stop-color="#cfcfcf"/><stop offset="1" stop-color="#e6e6e6"/></linearGradient>
<linearGradient id="g1w" x1="0" y1="0" x2="1" y2="1"><stop offset="0" stop-color="#e4e4e4"/><stop offset="1" stop-color="#cdcdcd"/></linearGradient>
<clipPath id="c1"><rect width="202" height="120"/></clipPath></defs>
<g clip-path="url(#c1)"><g filter="url(#bl1)">
<rect width="202" height="120" fill="#dcdcdc"/>
<rect x="0" y="0" width="202" height="26" fill="url(#g1c)"/>
<rect x="99" y="23" width="103" height="34" fill="#e9e9e9"/>
<ellipse cx="54" cy="8" rx="44" ry="14" fill="#ebebeb"/>
<ellipse cx="52" cy="7" rx="38" ry="10" fill="#f4f4f4"/>
<rect x="28" y="24" width="72" height="33" fill="#ececec"/>
<rect x="30" y="28" width="52" height="11" fill="#b4b4b4"/>
<rect x="31" y="29" width="5" height="9" fill="#8a8a8a"/><rect x="44" y="29" width="12" height="9" fill="#a0a0a0"/><rect x="63" y="29" width="3" height="9" fill="#888"/><rect x="72" y="29" width="9" height="9" fill="#9c9c9c"/>
<rect x="30" y="43" width="52" height="11" fill="#a8a8a8"/>
<rect x="44" y="43" width="25" height="10" fill="#777"/>
<rect x="47" y="52" width="23" height="6" fill="#f2f2f2"/>
<rect x="98" y="27" width="2" height="6" fill="#999"/>
<path d="M0 0H30V120H0z" fill="url(#g1w)"/>
<rect x="13" y="20" width="4" height="32" fill="#6a6a6a"/><rect x="21" y="25" width="1.8" height="9" fill="#999"/>
<rect x="3" y="76" width="3" height="12" fill="#eee"/>
<path d="M30 57H100V120H30z" fill="#d4d4d4"/>
<path d="M28 62Q50 56 74 62L86 74Q70 72 62 78Q50 88 34 92L28 92z" fill="#e6e6e6"/>
<path d="M28 70L63 74Q56 80 46 83L28 85z" fill="#3c3c3c"/>
<path d="M70 60Q80 64 85 72L82 74Q76 67 68 63z" fill="#7a7a7a"/>
<path d="M36 120L52 90Q70 80 92 74L104 82V120z" fill="#c6c6c6"/>
<rect x="20" y="91" width="17" height="11" fill="#a2a2a2"/><rect x="13" y="103" width="22" height="16" fill="#a6a6a6"/>
<rect x="0" y="113" width="10" height="7" fill="#9a9a9a"/>
<path d="M91 120Q92 82 103 70L108 72Q98 86 100 120z" fill="#f0f0f0"/>
<path d="M99 120Q99 100 106 84L135 120z" fill="#d8d8d8"/>
<rect x="104" y="55" width="98" height="30" fill="#d2d2d2"/>
<g fill="#666"><rect x="127" y="57" width="1.5" height="22"/><rect x="133" y="57" width="1.5" height="22"/><rect x="137" y="57" width="1.5" height="22"/><rect x="150" y="62" width="1.5" height="20"/><rect x="156" y="62" width="1.5" height="20"/><rect x="166" y="64" width="1.5" height="16"/><rect x="176" y="64" width="1.5" height="16"/></g>
<path d="M104 85H202V120H135L108 90z" fill="#686868"/>
<rect x="113" y="27.5" width="7.5" height="16" fill="#5a5a5a"/>
<rect x="126.3" y="31.6" width="5.5" height="9" fill="#6a6a6a"/>
<rect x="145.6" y="24" width="16" height="25" fill="#5e5e5e"/>
<rect x="190.3" y="21.3" width="11.7" height="15.7" fill="#3c3c3c"/>
<rect x="104" y="57" width="2" height="9" fill="#333"/>
<rect x="112.6" y="53" width="4" height="44" fill="#f2f2f2"/>
<rect x="141.5" y="60" width="6" height="60" fill="#f0f0f0"/>
<ellipse cx="127.7" cy="86" rx="11" ry="6" fill="#555"/><ellipse cx="127.7" cy="83" rx="9" ry="3" fill="#888"/>
<rect x="160.7" y="76" width="24" height="8" fill="#2a2a2a"/>
<rect x="162" y="84" width="21" height="21" fill="#4a4a4a"/><rect x="165" y="84" width="1.5" height="21" fill="#222"/><rect x="173" y="84" width="1.5" height="21" fill="#222"/><rect x="181" y="84" width="1.5" height="21" fill="#222"/>
<rect x="192" y="74" width="5" height="30" fill="#eaeaea"/>
<rect x="155.2" y="106.6" width="11.7" height="14" fill="#dedede"/><rect x="157" y="109" width="8" height="11" fill="#666"/>
<rect x="171.7" y="107" width="7.6" height="13" fill="#d8d8d8"/>
</g></g></svg>
<svg class="abs" style="left:1186px;top:502.5px" width="201.5" height="120" viewBox="0 0 201.5 120">
<defs><filter id="bl2"><feGaussianBlur stdDeviation="1"/></filter>
<linearGradient id="g2h" x1="0" y1="0" x2="0" y2="1"><stop offset="0" stop-color="#d8dadc" stop-opacity="0"/><stop offset="1" stop-color="#e2e0dc" stop-opacity=".8"/></linearGradient>
<linearGradient id="g2s" x1="0" y1="0" x2="1" y2="1"><stop offset="0" stop-color="#a8b6c4"/><stop offset=".45" stop-color="#c3cbd4"/><stop offset="1" stop-color="#e9e5de"/></linearGradient>
<linearGradient id="g2w" x1="0" y1="0" x2="1" y2="0"><stop offset="0" stop-color="#e6c9a8"/><stop offset=".25" stop-color="#e2d8ce"/><stop offset="1" stop-color="#dcd6d0"/></linearGradient>
<linearGradient id="g2g" x1="0" y1="0" x2="1" y2="0"><stop offset="0" stop-color="#857868"/><stop offset=".55" stop-color="#8c7c66"/><stop offset=".85" stop-color="#b88a50"/><stop offset="1" stop-color="#a8845a"/></linearGradient></defs>
<g filter="url(#bl2)">
<rect width="201.5" height="120" fill="url(#g2s)"/>
<path d="M0 8Q60 3 120 22T201.5 28V36Q140 40 90 34T0 26z" fill="#b0bcc8" opacity=".55"/>
<rect x="0" y="30" width="201.5" height="32" fill="url(#g2h)"/>
<path d="M29 60L33 50 38 53 45 48 52 55 60 52 68 56 76 57 88 58V62H29z" fill="#4e5048"/>
<rect x="86" y="57.5" width="45" height="4" fill="#5a4a40"/>
<path d="M150 62L155 57 165 58 175 56 185 58 201.5 57V66H150z" fill="#6b7066"/>
<rect x="0" y="25" width="29" height="43" fill="#efefef"/>
<rect x="16" y="37" width="4" height="8" fill="#d8b896"/><rect x="24" y="39" width="2" height="5" fill="#ccc"/>
<rect x="16" y="55" width="5" height="12" fill="#8b5a20"/>
<rect x="29" y="60" width="18" height="7" fill="#a8a8a8"/><rect x="47" y="60" width="31" height="8" fill="#e8e8e8"/>
<rect x="47" y="65" width="31" height="3" fill="#e8c58a"/>
<rect x="0" y="67" width="201.5" height="53" fill="#a4a4a2"/><path d="M0 67H201.5V72H0z" fill="#b0b0ae"/>
<path d="M77.5 60L201.5 62V82L77.5 83z" fill="url(#g2w)"/>
<path d="M28 120L201.5 86V120z" fill="url(#g2g)"/>
<path d="M130 104Q175 96 201.5 110V120H160z" fill="#d8a050" opacity=".5"/>
</g></svg>
<svg class="abs" style="left:1185.8px;top:655.5px" width="201.5" height="120" viewBox="0 0 201.5 120">
<defs><filter id="bl3" x="-5%" y="-5%" width="110%" height="110%"><feGaussianBlur stdDeviation="0.7"/></filter><clipPath id="c3"><rect width="201.5" height="120"/></clipPath></defs>
<g clip-path="url(#c3)"><g filter="url(#bl3)">
<rect width="201.5" height="120" fill="#e2e2e2"/>
<path d="M25 0H72L68 25 60 40H25z" fill="#d6d6d6"/>
<path d="M30 20L68 40 62 45 28 30z" fill="#f2f2f2"/>
<rect x="72" y="0" width="100" height="70" fill="#ececec"/>
<g fill="#b4b4b4"><rect x="66" y="10" width="13" height="12"/><rect x="82" y="11" width="13" height="11"/><rect x="101" y="11" width="10" height="11"/><rect x="121" y="11" width="10" height="11"/>
<rect x="68" y="28" width="12" height="12"/><rect x="82" y="28" width="13" height="12"/><rect x="101" y="28" width="10" height="12"/><rect x="121" y="28" width="10" height="12"/>
<rect x="82" y="47" width="13" height="13"/><rect x="101" y="47" width="10" height="13"/><rect x="72" y="2" width="9" height="4"/><rect x="90" y="2" width="8" height="4"/></g>
<path d="M135 0H150L128 25 125 45H118V20z" fill="#f0f0f0"/>
<path d="M150 0H201.5V70H170V25z" fill="#e8e8e8"/>
<rect x="176" y="1" width="10" height="21" fill="#8e8e8e"/><rect x="190" y="1" width="11" height="14" fill="#c8c8c8"/>
<rect x="185" y="28" width="16" height="30" fill="#d0d0d0"/>
<g fill="#acacac"><rect x="39" y="16" width="3" height="16"/><rect x="48" y="20" width="3" height="16"/><rect x="56" y="26" width="3" height="14"/><rect x="160" y="14" width="3" height="12"/></g>
<rect x="0" y="38" width="30" height="40" fill="#dcdcdc"/>
<rect x="16" y="46" width="8" height="8" fill="#c4c4c4"/>
<rect x="17" y="58" width="26" height="13" fill="#9c9c9c"/>
<path d="M0 0H34Q40 12 36 26Q30 38 18 40Q6 40 0 38z" fill="#727272"/>
<path d="M2 4Q16 0 26 10Q30 22 18 30Q6 28 2 20z" fill="#646464"/>
<rect x="31" y="38" width="2.2" height="32" fill="#555"/>
<path d="M56 50Q58 38 68 38Q80 40 80 50Q76 58 68 58Q58 58 56 50z" fill="#808080"/>
<rect x="67" y="55" width="2" height="10" fill="#444"/>
<rect x="42" y="68" width="42" height="16" fill="#c2c2c2"/>
<rect x="56" y="62" width="20" height="10" fill="#8e8e8e"/>
<path d="M84 60H100V74H84z" fill="#d0d0d0"/>
<rect x="84" y="62" width="2" height="12" fill="#555"/>
<path d="M114 50Q118 40 126 41Q136 44 136 52Q130 56 124 56Q116 56 114 50z" fill="#747474"/>
<rect x="124" y="54" width="1.6" height="12" fill="#555"/>
<path d="M134 34Q140 18 160 18Q182 20 189 38Q184 52 165 52Q142 52 134 34z" fill="#6a6a6a"/>
<path d="M138 30Q148 22 160 24Q150 34 140 38z" fill="#808080"/>
<rect x="154.5" y="48" width="3" height="21" fill="#555"/><rect x="164" y="48" width="2.2" height="20" fill="#444"/>
<rect x="100" y="62" width="80" height="8" fill="#c8c8c8"/>
<rect x="0" y="72" width="201.5" height="48" fill="#dcdcdc"/>
<rect x="10" y="74" width="32" height="6" fill="#aeaeae"/><rect x="0" y="82" width="14" height="9" fill="#646464"/>
<rect x="10" y="82" width="42" height="6" fill="#c0c0c0"/>
<path d="M60 76H100L95 100H58z" fill="#efefef"/>
<g fill="#9c9c9c"><circle cx="84" cy="82" r="1"/><circle cx="90" cy="88" r="1"/><circle cx="96" cy="80" r="1"/><circle cx="78" cy="92" r="1"/><circle cx="88" cy="96" r="1"/><circle cx="106" cy="88" r="1"/><circle cx="104" cy="96" r="1.2"/></g>
<path d="M100 76H130L128 100H100z" fill="#e6e6e6"/>
<path d="M140 72L186 72 186 92 140 92z" fill="#c6c6c6"/>
<path d="M140 80L148 76 156 80 164 76 172 80 180 76 186 79V82L180 79 172 83 164 79 156 83 148 79 140 83z" fill="#e4e4e4"/>
<rect x="185.5" y="84" width="16" height="23" fill="#acacac"/>
<path d="M188 84Q186 70 194 64Q202 66 201.5 84z" fill="#646464"/>
<rect x="108" y="78" width="10" height="16" fill="#8e8e8e"/>
<ellipse cx="43.5" cy="86" rx="14" ry="3.6" fill="#eeeeee"/><rect x="42.6" y="88" width="2" height="26" fill="#909090"/>
<ellipse cx="140" cy="87.5" rx="14" ry="3.6" fill="#ececec"/><rect x="139" y="89" width="2" height="26" fill="#8e8e8e"/>
<path d="M150 90L162 84V112H158V92z" fill="#d2d2d2"/>
<rect x="0" y="108" width="201.5" height="12" fill="#d4d4d4"/>
</g></g></svg>
<div class="blur" style="left:1229px;top:476px;width:112px;height:10px;background:#d2d2d2;filter:blur(3.5px)"></div>
<div class="blur" style="left:1243px;top:630px;width:84px;height:10px;background:#d2d2d2;filter:blur(3.5px)"></div>
<div class="blur" style="left:1265px;top:784px;width:57px;height:10px;background:#d2d2d2;filter:blur(3.5px)"></div>
<div class="abs" style="left:1282.5px;top:825.4px;width:26px;height:26px;border-radius:50%;background:#0fa297"></div><svg class="abs" style="left:1282.5px;top:825.4px" width="26" height="26" viewBox="0 0 26 26"><path d="M7.5 10.5L13 16 18.5 10.5" fill="none" stroke="#fff" stroke-width="2.2"/></svg>
<!--/IMAGES-->
<!--/MAIN-->
</body></html>
